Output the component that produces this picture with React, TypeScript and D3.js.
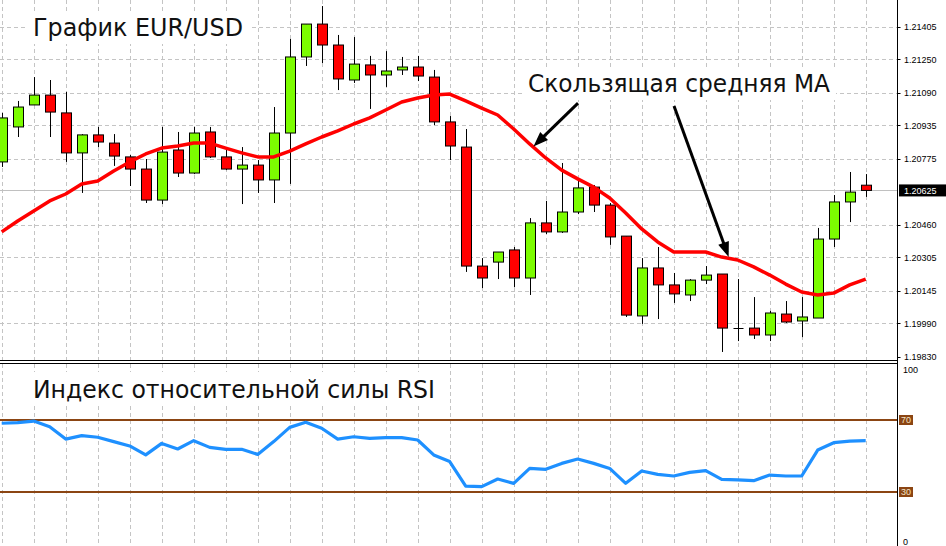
import React from 'react';
import * as d3 from 'd3';

const W = 946;
const H = 546;

const opens = [
  1.20761, 1.20928, 1.21033, 1.2108, 1.20995, 1.20804, 1.2089, 1.20851, 1.20785, 1.20727,
  1.20579, 1.20818, 1.20708, 1.20904, 1.20785, 1.20727, 1.20746, 1.20675, 1.20899, 1.21262,
  1.21419, 1.21319, 1.21152, 1.21224, 1.21176, 1.212, 1.21214, 1.21166, 1.20952, 1.20832,
  1.20264, 1.20283, 1.20341, 1.20207, 1.2047, 1.20427, 1.20522, 1.20641, 1.20555, 1.20407,
  1.20026, 1.20255, 1.20174, 1.20126, 1.20197, 1.20226, 1.19968, 1.19968, 1.19935, 1.20035,
  1.20002, 1.20016, 1.20393, 1.2057, 1.2065,
];
const highs = [
  1.20995, 1.21052, 1.21166, 1.21152, 1.21095, 1.20894, 1.20928, 1.20894, 1.20794, 1.20775,
  1.20928, 1.20904, 1.20928, 1.20928, 1.20827, 1.20832, 1.2077, 1.21023, 1.21348, 1.21419,
  1.21505, 1.21367, 1.21357, 1.21267, 1.2129, 1.21262, 1.21267, 1.212, 1.2098, 1.20918,
  1.20302, 1.20331, 1.20355, 1.20493, 1.20575, 1.20756, 1.2067, 1.20651, 1.20565, 1.20407,
  1.20302, 1.20355, 1.20231, 1.20202, 1.20264, 1.20226, 1.20202, 1.20116, 1.2005, 1.20097,
  1.20116, 1.20446, 1.20603, 1.20713, 1.20703,
];
const lows = [
  1.20737, 1.2088, 1.21033, 1.2088, 1.20761, 1.20613, 1.20832, 1.20742, 1.20646, 1.20565,
  1.2056, 1.20689, 1.20703, 1.2078, 1.20722, 1.2056, 1.20613, 1.20565, 1.20656, 1.21219,
  1.21233, 1.21104, 1.21138, 1.21014, 1.21119, 1.21176, 1.21147, 1.20937, 1.2077, 1.20236,
  1.20159, 1.20202, 1.20164, 1.20126, 1.20417, 1.20422, 1.20512, 1.20522, 1.20365, 1.20021,
  1.19988, 1.20011, 1.20088, 1.20097, 1.20178, 1.19854, 1.19906, 1.19916, 1.19906, 1.19992,
  1.19925, 1.20016, 1.20355, 1.20474, 1.20594,
];
const closes = [
  1.20971, 1.21023, 1.2108, 1.20999, 1.20804, 1.2089, 1.20856, 1.20789, 1.20727, 1.20579,
  1.20808, 1.20708, 1.20899, 1.20785, 1.20727, 1.20746, 1.20675, 1.20899, 1.21262, 1.21419,
  1.21319, 1.21157, 1.21228, 1.21176, 1.21195, 1.21214, 1.21171, 1.20952, 1.20837, 1.20264,
  1.20207, 1.20331, 1.20207, 1.2047, 1.20427, 1.20522, 1.20637, 1.20555, 1.20403, 1.2003,
  1.20255, 1.20174, 1.20131, 1.20197, 1.20221, 1.19968, 1.19968, 1.19935, 1.2004, 1.19997,
  1.20021, 1.20393, 1.2057, 1.20617, 1.20625,
];
const maValues = [
  1.20427, 1.20479, 1.20527, 1.20575, 1.20608, 1.20656, 1.2067, 1.20718, 1.20761, 1.20799,
  1.20827, 1.20837, 1.20851, 1.20851, 1.20827, 1.20804, 1.20785, 1.20785, 1.20813, 1.20847,
  1.2088, 1.20909, 1.20942, 1.20971, 1.21009, 1.21047, 1.21066, 1.2108, 1.21085, 1.21052,
  1.21018, 1.20985, 1.20918, 1.20847, 1.2078, 1.20722, 1.2068, 1.20641, 1.20589, 1.20517,
  1.20441, 1.20379, 1.20331, 1.20331, 1.20331, 1.20307, 1.20293, 1.2026, 1.20221, 1.20178,
  1.2014, 1.20126, 1.20135, 1.20174, 1.20202,
];
const rsiValues = [
  68.2, 68.5, 69.4, 66.3, 59.4, 61.3, 60.4, 58.0, 55.6, 50.6,
  57.0, 53.9, 58.5, 54.8, 53.7, 53.7, 50.9, 58.0, 65.9, 68.7,
  65.4, 59.4, 60.7, 59.8, 60.2, 60.2, 58.9, 50.6, 46.9, 33.3,
  33.0, 37.2, 34.8, 43.1, 42.6, 45.9, 48.3, 45.9, 43.1, 34.8,
  41.7, 39.8, 38.9, 40.9, 41.9, 37.0, 36.7, 36.3, 39.4, 38.9,
  38.9, 53.3, 57.4, 58.3, 58.5,
];
const priceTicks = [1.21405, 1.2125, 1.2109, 1.20935, 1.20775, 1.2046, 1.20305, 1.20145, 1.1999, 1.1983];
const bidPrice = 1.20625;
const rsiLevels = [70, 30];
const rsiTicks = [100, 0];

const titleText = 'График EUR/USD';
const maText = 'Скользящая средняя MA';
const rsiText = 'Индекс относительной силы RSI';

// arrows: [tailIndex, tailPrice, tipIndex, tipPrice]
const arrows = [
  [36.02, 1.21042, 33.33, 1.20842],
  [42.02, 1.21028, 45.39, 1.20317],
];

const AXIS_X = 897.5;
const labelFont = '"Liberation Sans", Arial, sans-serif';
const bigFont = '"DejaVu Sans", Verdana, sans-serif';

export default function App() {
  const n = closes.length;
  const x = d3.scaleLinear().domain([0, n - 1]).range([1.7, 865.7]);
  const y = d3.scaleLinear().domain([1.1983, 1.21405]).range([357, 27]);
  const yr = d3.scaleLinear().domain([0, 100]).range([546, 366]);

  const maLine = d3
    .line<number>()
    .x((_, i) => x(i))
    .y((d) => y(d))
    .curve(d3.curveLinear);
  const rsiLine = d3
    .line<number>()
    .x((_, i) => x(i))
    .y((d) => yr(d));

  const gridIdx = d3.range(0, n, 2);

  const arrowPaths = arrows.map(([ti, tp, hi, hp]) => {
    const x0 = x(ti), y0 = y(tp), x1 = x(hi), y1 = y(hp);
    const dx = x1 - x0, dy = y1 - y0;
    const len = Math.hypot(dx, dy);
    const ux = dx / len, uy = dy / len;
    const hl = 12, hw = 4.5;
    const bx = x1 - ux * hl, by = y1 - uy * hl;
    const px = -uy, py = ux;
    return {
      line: `M${x0},${y0}L${x1 - ux * 3},${y1 - uy * 3}`,
      head: `M${bx + px * hw},${by + py * hw}L${x1},${y1}L${bx - px * hw},${by - py * hw}Z`,
    };
  });

  return (
    <svg
      width={W}
      height={H}
      style={{ position: 'absolute', left: 0, top: 0, background: '#fff' }}
    >
      <rect x={0} y={0} width={W} height={H} fill="#fff" />
      {/* main panel grid */}
      <g stroke="#c4c4c4" strokeWidth={1} strokeDasharray="4,3">
        {gridIdx.map((i) => (
          <line key={'vg' + i} x1={Math.round(x(i)) + 0.5} x2={Math.round(x(i)) + 0.5} y1={0} y2={360} />
        ))}
        {priceTicks
          .filter((p) => y(p) < 350)
          .map((p) => (
            <line key={'hg' + p} x1={0} x2={AXIS_X} y1={Math.round(y(p)) + 0.5} y2={Math.round(y(p)) + 0.5} />
          ))}
        {gridIdx.map((i) => (
          <line key={'vr' + i} x1={Math.round(x(i)) + 0.5} x2={Math.round(x(i)) + 0.5} y1={364} y2={H} />
        ))}
      </g>
      {/* bid line */}
      <line x1={0} x2={AXIS_X} y1={Math.round(y(bidPrice)) + 0.5} y2={Math.round(y(bidPrice)) + 0.5} stroke="#c0c0c0" />

      {/* text backgrounds */}
      <rect x={27} y={12} width={224} height={32} fill="#fff" />
      <rect x={523} y={68} width={313} height={32} fill="#fff" />
      <rect x={27} y={372} width={414} height={34} fill="#fff" />

      {/* candles */}
      <g>
        {closes.map((c, i) => {
          const o = opens[i];
          const cx = Math.round(x(i)) + 0.5;
          const top = y(Math.max(o, c));
          const bot = y(Math.min(o, c));
          const col = c > o ? '#7CFC00' : '#FF0000';
          return (
            <g key={'c' + i}>
              <line x1={cx} x2={cx} y1={y(highs[i])} y2={y(lows[i])} stroke="#000" strokeWidth={1} />
              {c === o ? (
                <line x1={cx - 5} x2={cx + 5} y1={Math.round(top) + 0.5} y2={Math.round(top) + 0.5} stroke="#000" />
              ) : (
                <rect x={cx - 5} y={top} width={10} height={Math.max(1, bot - top)} fill={col} stroke="#000" strokeWidth={1} />
              )}
            </g>
          );
        })}
      </g>

      {/* moving average */}
      <path d={maLine(maValues) || ''} fill="none" stroke="#FF0000" strokeWidth={3.5} strokeLinejoin="round" />

      {/* arrows */}
      {arrowPaths.map((a, i) => (
        <g key={'a' + i}>
          <path d={a.line} stroke="#000" strokeWidth={3} fill="none" />
          <path d={a.head} fill="#000" stroke="#000" strokeWidth={1.5} strokeLinejoin="miter" />
        </g>
      ))}

      {/* titles */}
      <text x={33} y={36} fontFamily={bigFont} fontSize={24} fill="#111" textLength={210} lengthAdjust="spacingAndGlyphs">{titleText}</text>
      <text x={528} y={92} fontFamily={bigFont} fontSize={24} fill="#111" textLength={302} lengthAdjust="spacingAndGlyphs">{maText}</text>
      <text x={33} y={398} fontFamily={bigFont} fontSize={24} fill="#111" textLength={402} lengthAdjust="spacingAndGlyphs">{rsiText}</text>

      {/* RSI panel */}
      {rsiLevels.map((lv) => (
        <line key={'lv' + lv} x1={0} x2={AXIS_X} y1={yr(lv)} y2={yr(lv)} stroke="#8B4513" strokeWidth={2} />
      ))}
      <path d={rsiLine(rsiValues) || ''} fill="none" stroke="#1E90FF" strokeWidth={3.2} strokeLinejoin="round" />

      {/* panel separators */}
      <line x1={0} x2={AXIS_X} y1={360.5} y2={360.5} stroke="#000" />
      <line x1={0} x2={AXIS_X} y1={363.5} y2={363.5} stroke="#000" />

      {/* right axis */}
      <rect x={AXIS_X + 0.5} y={0} width={W - AXIS_X} height={H} fill="#fff" />
      <line x1={AXIS_X} x2={AXIS_X} y1={0} y2={H} stroke="#000" />
      <g fontFamily={labelFont} fontSize={9} fill="#000">
        {priceTicks.map((p) => (
          <g key={'pt' + p}>
            <line x1={AXIS_X} x2={AXIS_X + 3} y1={Math.round(y(p)) + 0.5} y2={Math.round(y(p)) + 0.5} stroke="#000" />
            <text x={904} y={y(p)} dy="0.35em">{p.toFixed(5)}</text>
          </g>
        ))}
      </g>
      <rect x={899} y={y(bidPrice) - 6} width={47} height={12} fill="#000" />
      <text x={904} y={y(bidPrice)} dy="0.35em" fontFamily={labelFont} fontSize={9} fill="#fff">
        {bidPrice.toFixed(5)}
      </text>

      {rsiTicks.map((t) => (
        <text
          key={'rt' + t}
          x={903}
          y={t === 100 ? yr(t) + 7 : yr(t) - 1}
          fontFamily={labelFont}
          fontSize={9}
          fill="#000"
        >
          {t}
        </text>
      ))}
      {rsiLevels.map((lv) => (
        <g key={'ll' + lv}>
          <rect x={899} y={yr(lv) - 5} width={14} height={10} fill="#8B4513" />
          <text x={901} y={yr(lv)} dy="0.35em" fontFamily={labelFont} fontSize={9} fill="#f5e6c8">
            {lv}
          </text>
        </g>
      ))}
    </svg>
  );
}
